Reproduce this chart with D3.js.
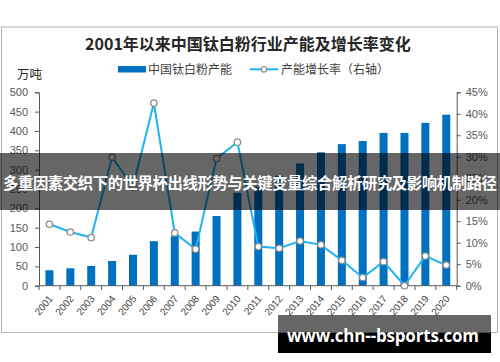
<!DOCTYPE html>
<html>
<head>
<meta charset="utf-8">
<script src="https://cdn.jsdelivr.net/npm/d3@7"></script>
<style>
  body { margin: 0; background: #fff; }
  svg { display: block; }
  text { font-family: "Noto Sans CJK SC", "Liberation Sans", sans-serif; }
</style>
</head>
<body>
<div id="chart"></div>
<script>
// chart data
var years = ['2001', '2002', '2003', '2004', '2005', '2006', '2007', '2008', '2009', '2010',
  '2011', '2012', '2013', '2014', '2015', '2016', '2017', '2018', '2019', '2020'];
var capacity = [40, 45, 51, 64, 80, 115, 128, 140, 180, 240,
  256, 284, 316, 345, 366, 374, 395, 395, 421, 442];
var growth = [14.3, 12.5, 11.2, 29.9, 23, 42.5, 12.3, 8.5, 29.6, 33.4,
  9.1, 8.7, 10.4, 9.5, 5.9, 1.9, 5.6, 0, 6.9, 4.8];
var leftTicks = [0, 50, 100, 150, 200, 250, 300, 350, 400, 450, 500];
var rightTicks = [0, 5, 10, 15, 20, 25, 30, 35, 40, 45];

var title = '2001年以来中国钛白粉行业产能及增长率变化';
var barName = '中国钛白粉产能';
var lineName = '产能增长率（右轴）';
var unitLabel = '万吨';
var bannerText = '多重因素交织下的世界杯出线形势与关键变量综合解析研究及影响机制路径';
var siteText = 'www.chn--bsports.com';

var W = 500, H = 362;
var svg = d3.select('#chart').append('svg')
  .attr('width', W)
  .attr('height', H);

// outer frame
svg.append('rect')
  .attr('x', 1.5).attr('y', 27)
  .attr('width', 496).attr('height', 305.5)
  .attr('fill', '#fff')
  .attr('stroke', '#b4b4b4')
  .attr('stroke-width', 1);

svg.append('text')
  .attr('x', 248).attr('y', 50)
  .attr('text-anchor', 'middle')
  .attr('font-size', 16)
  .attr('font-weight', 'bold')
  .attr('fill', '#262626')
  .text(title);

// legend
svg.append('rect')
  .attr('x', 118).attr('y', 66)
  .attr('width', 28).attr('height', 6.5)
  .attr('fill', '#0070c0');
svg.append('text')
  .attr('x', 148).attr('y', 73.5)
  .attr('font-size', 12)
  .attr('fill', '#404040')
  .text(barName);
svg.append('line')
  .attr('x1', 250).attr('x2', 278)
  .attr('y1', 69.3).attr('y2', 69.3)
  .attr('stroke', '#1fb4ef')
  .attr('stroke-width', 2);
svg.append('circle')
  .attr('cx', 264).attr('cy', 69.3).attr('r', 2.8)
  .attr('fill', '#fff')
  .attr('stroke', '#8c8c8c')
  .attr('stroke-width', 1.2);
svg.append('text')
  .attr('x', 281).attr('y', 73.5)
  .attr('font-size', 12)
  .attr('fill', '#404040')
  .text(lineName);

svg.append('text')
  .attr('x', 17).attr('y', 79)
  .attr('font-size', 12.5)
  .attr('fill', '#262626')
  .text(unitLabel);

// scales
var x = d3.scaleBand()
  .domain(years)
  .range([39, 456.7]);

var yLeft = d3.scaleLinear()
  .domain([0, 500])
  .range([285.7, 92.3]);

var yRight = d3.scaleLinear()
  .domain([0, 45])
  .range([285.7, 92.3]);

var axisColor = '#595959';
var numFont = '"Liberation Sans", "DejaVu Sans", sans-serif';

var leftAxis = svg.append('g')
  .attr('transform', 'translate(39,0)')
  .call(d3.axisLeft(yLeft).tickValues(leftTicks).tickSize(4).tickPadding(7));

var rightAxis = svg.append('g')
  .attr('transform', 'translate(456.7,0)')
  .call(d3.axisRight(yRight).tickValues(rightTicks).tickSize(4).tickPadding(5)
    .tickFormat(function(d) { return d + '%'; }));

[leftAxis, rightAxis].forEach(function(ax) {
  ax.select('.domain').attr('stroke', axisColor);
  ax.selectAll('.tick line').attr('stroke', axisColor);
  ax.selectAll('.tick text')
    .attr('fill', '#595959')
    .attr('font-size', 11)
    .style('font-family', numFont);
});

// bars
svg.append('g').selectAll('rect')
  .data(capacity)
  .enter()
  .append('rect')
  .attr('x', function(d, i) { return x(years[i]) + x.bandwidth() / 2 - 4; })
  .attr('y', function(d) { return yLeft(d); })
  .attr('width', 8)
  .attr('height', function(d) { return yLeft(0) - yLeft(d); })
  .attr('fill', '#0070c0');

// x axis line and ticks on band edges
var xAxisG = svg.append('g');
xAxisG.append('line')
  .attr('x1', 39).attr('x2', 456.7)
  .attr('y1', 285.7).attr('y2', 285.7)
  .attr('stroke', axisColor);
xAxisG.selectAll('.xt')
  .data(years.concat(['end']))
  .enter()
  .append('line')
  .attr('class', 'xt')
  .attr('x1', function(d, i) { return 39 + i * x.bandwidth(); })
  .attr('x2', function(d, i) { return 39 + i * x.bandwidth(); })
  .attr('y1', 285.7).attr('y2', 290)
  .attr('stroke', axisColor);
xAxisG.selectAll('.xl')
  .data(years)
  .enter()
  .append('text')
  .attr('class', 'xl')
  .attr('transform', function(d) {
    return 'translate(' + (x(d) + x.bandwidth() / 2 + 4) + ',299) rotate(-50)';
  })
  .attr('text-anchor', 'end')
  .attr('font-size', 10)
  .attr('fill', '#404040')
  .style('font-family', numFont)
  .text(function(d) { return d; });

// growth line
var line = d3.line()
  .x(function(d, i) { return x(years[i]) + x.bandwidth() / 2; })
  .y(function(d) { return yRight(d); });

svg.append('path')
  .datum(growth)
  .attr('d', line)
  .attr('fill', 'none')
  .attr('stroke', '#1fb4ef')
  .attr('stroke-width', 2);

svg.append('g').selectAll('circle')
  .data(growth)
  .enter()
  .append('circle')
  .attr('cx', function(d, i) { return x(years[i]) + x.bandwidth() / 2; })
  .attr('cy', function(d) { return yRight(d); })
  .attr('r', 3.2)
  .attr('fill', '#fff')
  .attr('stroke', '#8c8c8c')
  .attr('stroke-width', 1.3);

// dark banner across the middle
svg.append('rect')
  .attr('x', 0).attr('y', 153)
  .attr('width', W).attr('height', 57)
  .attr('fill', 'rgba(0,0,0,0.6)');
svg.append('text')
  .attr('x', 250).attr('y', 189)
  .attr('text-anchor', 'middle')
  .attr('font-size', 15.4)
  .attr('font-weight', 'bold')
  .attr('fill', '#fff')
  .attr('textLength', 494)
  .text(bannerText);

// site label box
svg.append('rect')
  .attr('x', 278).attr('y', 315)
  .attr('width', 213).attr('height', 18)
  .attr('fill', 'rgba(0,0,0,0.6)');
svg.append('rect')
  .attr('x', 278).attr('y', 333)
  .attr('width', 213).attr('height', 20)
  .attr('fill', '#000');
svg.append('text')
  .attr('x', 383).attr('y', 342)
  .attr('text-anchor', 'middle')
  .attr('font-size', 17)
  .attr('font-weight', 'bold')
  .attr('fill', '#fff')
  .style('font-family', '"Open Sans", "DejaVu Sans", sans-serif')
  .attr('textLength', 192)
  .text(siteText);
</script>
</body>
</html>
